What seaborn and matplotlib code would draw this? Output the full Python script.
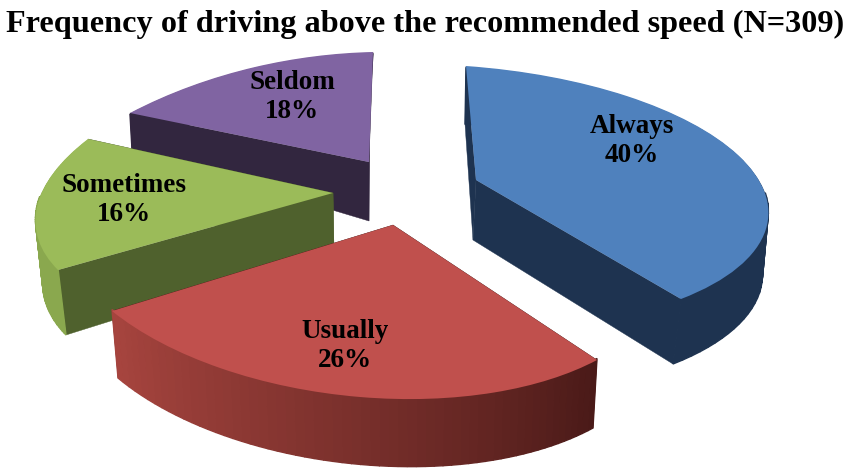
import numpy as np
import matplotlib
matplotlib.use("Agg")
import matplotlib.pyplot as plt
from matplotlib.transforms import Transform
import seaborn as sns

# ---- data ----
categories = ["Always", "Usually", "Sometimes", "Seldom"]
shares = [40, 26, 16, 18]
title = "Frequency of driving above the recommended speed (N=309)"
top_colors = ["#4f81bd", "#c0504d", "#9bbb59", "#8064a2"]

# ---- styling / projected layout of each exploded slice, in pixels ----
apex = [(476, 180), (393, 225), (333, 193), (369, 162)]
arc_start = [(466, 66), (597, 360), (58, 270), (130, 113)]
arc_mid = [(738, 155), (360, 397), (37, 207), (255, 67)]
arc_end = [(681, 299), (112, 311), (88, 139), (373, 52)]
drop_apex = [(-3, 60), (0, 65), (1, 58), (0, 59)]
drop_start = [(-1, 58), (-4, 68), (8, 65), (2, 37)]
drop_end = [(-8, 65), (6, 67), (6, 60), (-3, 40)]
wall_side = ["#1e3350", "#4a1a18", "#4f612d", "#32263f"]
wall_a = ["#1e3350", "#4a1a18", "#8aa84e", "#32263f"]
wall_b = ["#1e3350", "#a8453f", "#8aa84e", "#32263f"]
label_xy = [(632, 141), (345, 346), (124, 200), (292, 97)]
draw_order = [3, 0, 2, 1]

W, H = 851, 475
sns.set_theme(style="white")
plt.rcParams["font.family"] = ["Liberation Serif", "DejaVu Serif"]


class Homography(Transform):
    input_dims = 2
    output_dims = 2
    is_separable = False
    has_inverse = False

    def __init__(self, src, dst):
        super().__init__()
        rows, rhs = [], []
        for (x, y), (u, v) in zip(src, dst):
            rows.append([x, y, 1, 0, 0, 0, -u * x, -u * y])
            rows.append([0, 0, 0, x, y, 1, -v * x, -v * y])
            rhs += [u, v]
        self.m = np.append(np.linalg.solve(np.array(rows, float), np.array(rhs, float)), 1).reshape(3, 3)

    def transform_non_affine(self, values):
        values = np.asarray(values, float)
        p = np.c_[values, np.ones(len(values))] @ self.m.T
        return p[:, :2] / p[:, 2:]


def unit(deg):
    return (np.cos(np.radians(deg)), np.sin(np.radians(deg)))


def mix(c1, c2, t):
    a, b = np.array(matplotlib.colors.to_rgb(c1)), np.array(matplotlib.colors.to_rgb(c2))
    return tuple(a + (b - a) * t)


fig, ax = plt.subplots(figsize=(W / 100, H / 100), dpi=100)
fig.subplots_adjust(0, 0, 1, 1)
wedges, _ = ax.pie(shares, startangle=90, counterclock=False,
                   colors=sns.color_palette(top_colors), wedgeprops={"linewidth": 0})
ax.set_aspect("auto")
ax.set_xlim(0, W)
ax.set_ylim(H, 0)
ax.axis("off")

edges = 90 - 3.6 * np.r_[0, np.cumsum(shares)]
for z, i in enumerate(draw_order):
    t0, t1 = edges[i], edges[i + 1]
    tm = (t0 + t1) / 2
    h = Homography([(0, 0), unit(t0), unit(tm), unit(t1)], [apex[i], arc_start[i], arc_mid[i], arc_end[i]])
    base = 10 * z + 1
    A = np.array(apex[i], float)
    S = np.array(arc_start[i], float)
    E = np.array(arc_end[i], float)
    dA, dS, dE = map(lambda d: np.array(d, float), (drop_apex[i], drop_start[i], drop_end[i]))
    # radial side walls
    ax.fill(*np.array([A, S, S + dS, A + dA]).T, color=wall_side[i], lw=0.3, zorder=base)
    ax.fill(*np.array([A, E, E + dE, A + dA]).T, color=wall_side[i], lw=0.3, zorder=base)
    # outer rim wall, built up from thin shaded strips
    th = np.linspace(t0, t1, 61)
    rim = h.transform_non_affine(np.column_stack(unit(th)))
    for k in range(60):
        f0, f1 = k / 60, (k + 1) / 60
        d0, d1 = dS + (dE - dS) * f0, dS + (dE - dS) * f1
        # tuck the strip's upper edge beneath the top face, on the back and the front of the rim
        tuck = np.array([0.0, 1.5 if np.sin(np.radians(th[k])) > 0 else -1.5])
        poly = np.array([rim[k] + tuck, rim[k + 1] + tuck, rim[k + 1] + d1, rim[k] + d0])
        c = mix(wall_a[i], wall_b[i], f0)
        ax.fill(*poly.T, color=c, lw=1.0, zorder=base + 1)
    wedges[i].set_transform(h + ax.transData)
    wedges[i].set_zorder(base + 2)
    ax.text(*label_xy[i], f"{categories[i]}\n{shares[i]}%", ha="center", va="center",
            fontsize=19.5, fontweight="bold", color="black", linespacing=1.25, zorder=100)

ax.text(425, 24, title, ha="center", va="center", fontsize=23.2, fontweight="bold", color="black")
fig.savefig("out.png", dpi=100)
